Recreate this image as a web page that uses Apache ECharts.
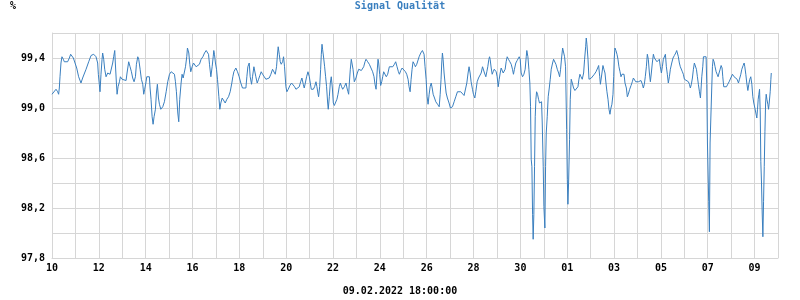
<!DOCTYPE html>
<html>
<head>
<meta charset="utf-8">
<script src="https://cdn.jsdelivr.net/npm/echarts@6/dist/echarts.min.js"></script>
<style>html,body{margin:0;padding:0;background:#fff}#c{width:800px;height:300px}</style>
</head>
<body>
<div id="c"></div>
<script>
// Hours since 10.01.2022 00:00, signal quality in %
const part1 = [[0.0,99.11],[4.1,99.15],[5.8,99.13],[6.8,99.11],[7.5,99.16],[8.2,99.25],[9.2,99.36],[10.2,99.41],[11.6,99.39],[12.6,99.37],[16.0,99.37],[17.8,99.40],[19.1,99.43],[20.5,99.42],[21.9,99.40],[23.9,99.39],[25.3,99.32],[27.3,99.25],[29.7,99.20],[31.4,99.24],[34.9,99.31],[37.6,99.37],[40.0,99.42],[42.7,99.43],[45.1,99.41],[46.8,99.36],[47.5,99.27],[48.5,99.19],[49.2,99.13],[50.2,99.27],[51.3,99.39],[51.9,99.44],[53.0,99.39],[54.0,99.31],[55.4,99.25],[57.1,99.28],[58.1,99.29],[59.5,99.27],[60.5,99.28],[62.2,99.36],[63.2,99.41],[64.3,99.46],[64.9,99.36],[66.0,99.20],[66.7,99.11],[67.7,99.17],[69.1,99.21],[70.1,99.25],[71.8,99.23],[75.9,99.22],[76.9,99.28],[78.6,99.37],[80.0,99.33],[81.4,99.29],[82.7,99.24],[84.1,99.21],[85.5,99.25],[86.5,99.35],[87.9,99.41],[88.9,99.39],[90.3,99.31],[91.6,99.23],[93.0,99.19],[94.0,99.11],[95.0,99.15],[96.4,99.21],[97.1,99.25],[99.8,99.25],[100.5,99.16],[101.5,99.07],[102.6,98.93],[103.6,98.87],[104.6,98.93],[106.0,98.99],[107.0,99.12],[108.0,99.19],[109.1,99.08],[110.1,99.03],[111.5,98.99],[113.5,99.01],[115.2,99.05],[117.0,99.13],[118.6,99.21],[120.4,99.27],[122.1,99.29],[123.8,99.30],[125.5,99.27],[126.5,99.21],[127.5,99.13],[128.9,98.96],[129.9,98.89],[130.9,99.07],[132.3,99.20],[133.3,99.27],[134.4,99.24],[135.7,99.25],[136.8,99.33],[138.1,99.41],[138.8,99.48],[139.5,99.49],[140.2,99.44],[141.2,99.35],[142.2,99.29],[143.6,99.33],[145.0,99.36],[146.3,99.35],[147.7,99.33],[149.4,99.32],[151.1,99.35],[152.8,99.39],[154.6,99.41],[156.3,99.44],[158.0,99.46],[159.3,99.46],[160.4,99.43],[161.4,99.35],[162.8,99.25],[164.1,99.33],[165.2,99.41],[165.8,99.46],[166.5,99.43],[167.5,99.36],[168.6,99.31],[169.6,99.23],[171.0,99.09],[172.0,98.99],[173.0,99.04],[174.4,99.08],[175.8,99.07],[177.5,99.04],[179.2,99.07],[180.9,99.09],[182.6,99.13],[184.3,99.20],[185.3,99.25],[186.4,99.29]];
const part2 = [[188.4,99.32],[190.1,99.29],[191.8,99.25],[193.5,99.20],[195.2,99.16],[198.7,99.16],[199.7,99.25],[200.7,99.33],[202.1,99.36],[203.1,99.25],[204.5,99.19],[205.5,99.25],[206.9,99.33],[207.9,99.34],[208.9,99.25],[210.3,99.20],[211.7,99.23],[213.0,99.26],[214.4,99.29],[215.8,99.27],[217.5,99.25],[219.2,99.23],[220.9,99.22],[222.6,99.24],[224.3,99.27],[226.0,99.31],[227.7,99.32],[228.8,99.27],[230.1,99.33],[231.2,99.44],[231.8,99.49],[232.9,99.43],[233.9,99.37],[234.9,99.35],[236.3,99.37],[237.3,99.41],[238.3,99.33],[239.7,99.17],[240.7,99.13],[242.1,99.15],[243.8,99.18],[245.5,99.20],[247.2,99.21],[248.6,99.17],[250.0,99.15],[251.7,99.16],[253.4,99.17],[254.8,99.21],[256.1,99.24],[257.5,99.19],[258.5,99.16],[259.6,99.20],[260.9,99.25],[262.3,99.29],[263.7,99.25],[264.7,99.20],[265.7,99.15],[267.8,99.15],[269.1,99.17],[270.5,99.21],[271.5,99.17],[272.5,99.12],[273.2,99.09],[274.3,99.17],[275.3,99.31],[276.0,99.43],[276.7,99.51],[277.3,99.47],[278.4,99.40],[279.4,99.33],[280.4,99.25],[281.4,99.17],[282.5,99.04],[283.1,98.99],[284.2,99.09],[285.2,99.20],[286.2,99.25],[287.3,99.16],[288.3,99.04],[289.3,99.02],[291.0,99.03],[292.0,99.07],[293.1,99.11],[294.4,99.17],[295.5,99.20],[296.8,99.17],[297.9,99.15],[299.6,99.17],[301.3,99.20],[302.3,99.16],[303.3,99.13],[304.0,99.11],[304.7,99.20],[305.7,99.31],[306.7,99.39],[307.4,99.39],[308.5,99.31],[309.8,99.21],[311.5,99.24],[312.9,99.28],[314.3,99.31],[315.6,99.32],[317.0,99.30],[318.4,99.29],[319.4,99.33],[320.8,99.37],[321.8,99.39],[323.5,99.37],[325.2,99.35],[326.9,99.32],[328.6,99.29],[330.0,99.25],[331.0,99.19],[332.1,99.15],[333.1,99.28],[334.1,99.39],[334.8,99.36],[335.8,99.27],[336.8,99.18],[337.9,99.21],[338.9,99.25],[339.9,99.29],[341.3,99.28],[342.6,99.25],[344.0,99.27],[345.7,99.33],[347.4,99.34],[349.2,99.33],[350.9,99.35],[352.2,99.37],[353.6,99.33],[355.0,99.29],[356.0,99.27],[357.4,99.30],[358.8,99.32],[360.5,99.31],[362.2,99.29],[363.5,99.27],[364.9,99.23],[365.9,99.17],[367.0,99.13],[368.0,99.23],[369.0,99.31],[370.0,99.37],[371.4,99.35],[372.4,99.33],[373.8,99.35]];
const part3 = [[376.2,99.41],[377.9,99.44],[379.6,99.46],[381.3,99.43],[382.3,99.33],[383.4,99.23],[384.4,99.09],[385.4,99.03],[386.5,99.11],[387.5,99.17],[388.6,99.20],[389.6,99.16],[390.6,99.11],[392.0,99.08],[393.3,99.05],[395.1,99.03],[396.8,99.01],[397.8,99.11],[398.7,99.23],[399.4,99.36],[400.1,99.44],[400.8,99.39],[401.8,99.28],[402.8,99.20],[403.9,99.12],[405.2,99.08],[406.9,99.04],[408.3,99.00],[409.0,98.99],[410.4,99.01],[412.1,99.05],[413.8,99.09],[415.5,99.13],[417.2,99.13],[418.9,99.13],[420.6,99.12],[422.3,99.10],[424.1,99.09],[425.1,99.20],[426.4,99.28],[427.4,99.33],[428.5,99.28],[429.5,99.21],[430.9,99.15],[431.9,99.11],[433.3,99.08],[434.3,99.13],[435.7,99.21],[437.1,99.24],[438.4,99.24],[439.8,99.28],[441.2,99.33],[442.2,99.32],[443.2,99.28],[444.6,99.25],[445.6,99.29],[446.6,99.33],[447.7,99.39],[448.4,99.41],[449.0,99.39],[450.1,99.32],[451.1,99.27],[452.1,99.29],[453.2,99.31],[454.2,99.32],[455.2,99.29],[456.2,99.25],[457.3,99.17],[458.3,99.23],[459.3,99.28],[460.3,99.32],[461.4,99.31],[462.4,99.28],[463.4,99.27],[464.4,99.31],[465.4,99.37],[466.5,99.41],[467.8,99.39],[469.2,99.37],[470.6,99.35],[471.9,99.31],[472.9,99.27],[473.9,99.31],[475.3,99.36],[476.7,99.38],[477.7,99.39],[478.8,99.41],[479.8,99.39],[480.8,99.28],[482.2,99.25],[483.6,99.27],[484.9,99.31],[486.0,99.41],[486.6,99.46],[487.7,99.41],[488.7,99.31],[489.7,99.20],[490.4,99.01],[491.1,98.59],[491.8,98.53],[492.5,98.15],[493.1,97.95],[493.8,98.15],[494.5,98.53],[495.2,98.93],[495.9,99.07],[496.6,99.13],[497.6,99.11],[498.6,99.07],[499.6,99.04],[500.7,99.05],[501.7,99.05],[502.4,98.88],[503.4,98.53],[504.1,98.21],[505.1,98.04],[505.8,98.53],[506.5,98.80],[507.5,98.93],[508.5,99.09],[509.6,99.16],[510.6,99.23],[511.6,99.31],[513.0,99.36],[514.0,99.39],[515.0,99.39],[516.4,99.35],[517.8,99.31],[519.2,99.28],[520.2,99.25],[521.2,99.31],[522.2,99.40],[523.3,99.48],[524.3,99.47],[525.3,99.41],[526.3,99.33],[527.4,98.83],[528.1,98.43],[528.7,98.23],[529.4,98.40],[530.4,98.75],[531.1,99.07],[532.1,99.23],[533.2,99.20],[534.5,99.16],[535.9,99.14],[537.6,99.13],[539.0,99.17],[540.0,99.23],[541.0,99.27],[542.1,99.25],[543.4,99.23],[544.8,99.28],[545.8,99.39],[546.9,99.49],[547.5,99.56],[548.2,99.51],[549.3,99.39],[550.3,99.23],[551.3,99.23],[552.7,99.24],[554.0,99.25],[555.8,99.27],[557.5,99.29],[559.2,99.32],[560.2,99.34],[561.3,99.25],[562.0,99.19]];
const part4 = [[562.6,99.20],[563.6,99.28],[564.6,99.34],[565.6,99.31],[566.7,99.28],[567.7,99.20],[568.7,99.13],[569.8,99.07],[570.8,98.99],[571.8,98.95],[572.8,99.00],[573.8,99.03],[574.9,99.11],[575.6,99.25],[576.2,99.40],[576.9,99.48],[577.9,99.46],[579.0,99.43],[580.0,99.39],[581.0,99.33],[582.1,99.29],[583.1,99.25],[584.1,99.27],[586.2,99.27],[587.2,99.20],[588.6,99.16],[589.6,99.09],[590.6,99.11],[592.0,99.15],[593.4,99.18],[594.7,99.21],[595.8,99.24],[596.8,99.24],[598.2,99.21],[599.5,99.20],[600.9,99.21],[603.6,99.22],[605.0,99.19],[606.0,99.16],[607.0,99.19],[608.0,99.25],[609.1,99.33],[610.1,99.43],[611.1,99.39],[612.2,99.28],[613.2,99.21],[614.2,99.28],[615.2,99.36],[616.3,99.43],[617.3,99.40],[618.7,99.39],[620.0,99.37],[621.4,99.36],[622.4,99.39],[623.4,99.33],[624.5,99.28],[625.5,99.33],[626.5,99.39],[627.5,99.40],[628.6,99.43],[629.6,99.33],[630.6,99.27],[631.6,99.20],[632.7,99.25],[633.7,99.31],[635.1,99.36],[636.4,99.40],[637.8,99.42],[639.2,99.44],[640.2,99.46],[640.9,99.45],[641.9,99.41],[642.9,99.36],[643.9,99.33],[645.0,99.32],[646.0,99.29],[647.0,99.27],[648.1,99.23],[649.4,99.22],[652.2,99.21],[653.2,99.19],[654.2,99.16],[655.2,99.19],[656.3,99.24],[657.3,99.31],[658.3,99.36],[659.3,99.35],[660.4,99.31],[661.4,99.25],[662.4,99.19],[663.5,99.13],[664.5,99.08],[665.2,99.16],[665.9,99.25],[666.9,99.33],[667.6,99.41],[670.3,99.41],[671.0,99.19],[671.7,98.72],[672.4,98.72],[673.0,98.25],[673.7,98.01],[674.4,98.72],[675.4,98.71],[676.1,99.16],[676.8,99.33],[677.5,99.39],[678.5,99.37],[679.5,99.33],[680.6,99.29],[681.6,99.27],[682.6,99.25],[683.6,99.28],[684.7,99.31],[685.7,99.34],[686.7,99.32],[687.4,99.25],[688.4,99.17],[691.2,99.17],[692.5,99.19],[693.9,99.21],[695.6,99.24],[697.3,99.27],[699.0,99.25],[700.7,99.24],[702.1,99.23],[703.5,99.20],[704.5,99.23],[705.9,99.27],[706.9,99.31],[708.3,99.34],[709.3,99.36],[710.0,99.33],[711.0,99.27],[712.0,99.20],[713.1,99.14],[714.1,99.19],[715.1,99.23],[716.1,99.25],[717.2,99.19],[718.2,99.09],[719.2,99.04],[720.3,99.00],[721.3,98.96],[722.3,98.92],[723.0,98.99],[723.7,99.07],[724.4,99.11],[725.1,99.15],[725.8,98.96],[726.4,98.57],[727.1,98.40],[727.8,98.16],[728.5,97.97],[729.2,98.25],[729.9,98.53],[730.6,98.81],[731.3,99.04],[731.9,99.11],[732.6,99.07],[733.6,99.03],[734.3,98.99],[735.0,99.04],[736.0,99.13],[736.7,99.23],[737.1,99.28]];

const xTickLabels = ['10','12','14','16','18','20','22','24','26','28','30','01','03','05','07','09'];
const titleText = 'Signal Qualität';
const unitText = '%';
const footerText = '09.02.2022 18:00:00';

const FONT = '"DejaVu Sans Mono", "Liberation Mono", monospace';
const GRIDC = '#d6d6d6';
const chart = echarts.init(document.getElementById('c'));
chart.setOption({
  animation: false,
  backgroundColor: '#fff',
  title: [
    {text: titleText, left: 'center', top: 1, padding: 0, textStyle: {fontFamily: FONT, fontSize: 10, fontWeight: 'bold', color: '#3a7fbf'}},
    {text: unitText, left: 10, top: 1, padding: 0, textStyle: {fontFamily: FONT, fontSize: 10, fontWeight: 'bold', color: '#000'}},
    {text: footerText, left: 'center', top: 286, padding: 0, textStyle: {fontFamily: FONT, fontSize: 10, fontWeight: 'bold', color: '#000'}}
  ],
  grid: {left: 52, right: 22, top: 33, bottom: 42, containLabel: false},
  xAxis: {
    type: 'value', min: 0, max: 744, interval: 24,
    axisLine: {show: true, lineStyle: {color: GRIDC}},
    axisTick: {show: false},
    splitLine: {show: true, lineStyle: {color: GRIDC, width: 1}},
    axisLabel: {
      margin: 5, fontFamily: FONT, fontSize: 10, fontWeight: 'bold', color: '#000',
      showMaxLabel: false,
      formatter: function (v) {
        const d = Math.round(v / 24);
        if (d % 2 !== 0) return '';
        return xTickLabels[d / 2] || '';
      }
    }
  },
  yAxis: {
    type: 'value', min: 97.8, max: 99.6, interval: 0.2,
    axisLine: {show: true, lineStyle: {color: GRIDC}},
    axisTick: {show: false},
    splitLine: {show: true, lineStyle: {color: GRIDC, width: 1}},
    axisLabel: {
      margin: 7, fontFamily: FONT, fontSize: 10, fontWeight: 'bold', color: '#000',
      formatter: function (v) {
        const k = Math.round((v - 97.8) * 10);
        if (k % 4 !== 0) return '';
        return v.toFixed(1).replace('.', ',');
      }
    }
  },
  series: [{
    type: 'line',
    data: part1.concat(part2, part3, part4),
    showSymbol: false,
    symbol: 'none',
    lineStyle: {color: '#3a7fbf', width: 1},
    silent: true
  }]
});
</script>
</body>
</html>
